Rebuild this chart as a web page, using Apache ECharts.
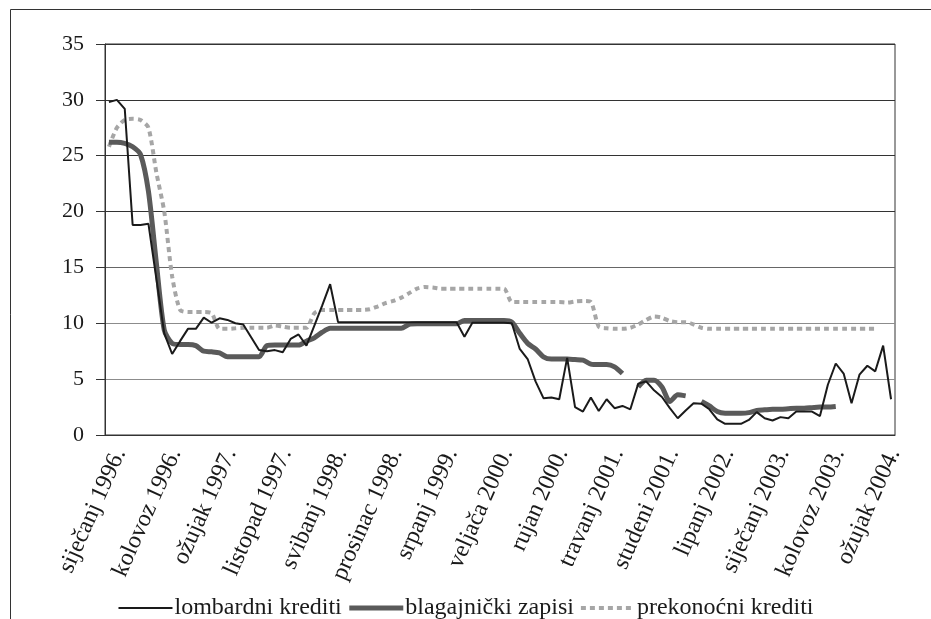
<!DOCTYPE html>
<html>
<head>
<meta charset="utf-8">
<script src="https://cdn.jsdelivr.net/npm/echarts@6/dist/echarts.min.js"></script>
<style>html,body{margin:0;padding:0;background:#fff;}#c{width:931px;height:619px;}</style>
</head>
<body>
<div id="c"></div>
<script>
const monthNames = ['siječanj','veljača','ožujak','travanj','svibanj','lipanj','srpanj','kolovoz','rujan','listopad','studeni','prosinac'];
const startYear = 1996;
const monthCount = 100;
const categories = [];
for (let i = 0; i < monthCount; i++) {
  categories.push(monthNames[i % 12] + ' ' + (startYear + Math.floor(i / 12)) + '.');
}
const yTicks = [0, 5, 10, 15, 20, 25, 30, 35];

const lombardni = [
  29.8, 30.0, 29.2, 18.8, 18.8, 18.9, 14.0, 9.1, 7.25, 8.4,
  9.5, 9.5, 10.5, 10.05, 10.45, 10.3, 10.0, 9.9, 8.75, 7.6,
  7.5, 7.6, 7.4, 8.6, 9.0, 8.0, 9.8, 11.6, 13.5, 10.1,
  10.1, 10.1, 10.1, 10.1, 10.1, 10.1, 10.1, 10.1, 10.1, 10.1,
  10.1, 10.1, 10.1, 10.1, 10.1, 8.8, 10.05, 10.05, 10.05, 10.05,
  10.05, 10.0, 7.7, 6.8, 4.8, 3.3, 3.35, 3.2, 6.9, 2.5,
  2.1, 3.35, 2.15, 3.2, 2.4, 2.6, 2.3, 4.6, 4.8, 4.0,
  3.4, 2.4, 1.5, 2.2, 2.85, 2.8, 2.3, 1.4, 1.0, 1.0,
  1.0, 1.35, 2.05, 1.5, 1.3, 1.6, 1.5, 2.1, 2.1, 2.1,
  1.7, 4.5, 6.4, 5.5, 2.85, 5.4, 6.2, 5.7, 8.0, 3.2
];
const blagajnicki = [
  26.2, 26.2, 26.1, 25.8, 25.1, 21.8, 15.4, 9.4, 8.2, 8.1,
  8.1, 8.0, 7.5, 7.45, 7.35, 7.0, 7.0, 7.0, 7.0, 7.0,
  8.0, 8.05, 8.05, 8.05, 8.05, 8.4, 8.7, 9.2, 9.55, 9.55,
  9.55, 9.55, 9.55, 9.55, 9.55, 9.55, 9.55, 9.55, 9.9, 9.95,
  9.95, 9.95, 9.95, 9.95, 9.95, 10.25, 10.25, 10.25, 10.25, 10.25,
  10.25, 10.1, 9.1, 8.2, 7.7, 7.0, 6.8, 6.8, 6.8, 6.75,
  6.7, 6.35, 6.3, 6.3, 6.1, 5.5, null, 4.3, 4.9, 4.9,
  4.3, 3.0, 3.6, 3.5, null, 3.0, 2.6, 2.1, 1.95, 1.95,
  1.95, 2.0, 2.2, 2.25, 2.3, 2.3, 2.35, 2.4, 2.4, 2.45,
  2.5, 2.5, 2.55, null, null, null, null, null, null, null
];
const prekonocni = [
  25.8, 27.5, 28.2, 28.3, 28.2, 27.5, 23.5, 20.0, 14.2, 11.2,
  11.0, 11.0, 11.0, 10.9, 9.5, 9.5, 9.55, 9.6, 9.6, 9.6,
  9.6, 9.8, 9.7, 9.6, 9.6, 9.6, 10.9, 11.2, 11.2, 11.2,
  11.2, 11.2, 11.2, 11.25, 11.5, 11.8, 12.0, 12.3, 12.7, 13.1,
  13.25, 13.2, 13.1, 13.1, 13.1, 13.1, 13.1, 13.1, 13.1, 13.1,
  13.1, 11.9, 11.9, 11.9, 11.9, 11.9, 11.9, 11.9, 11.85, 11.95,
  12.0, 11.9, 9.7, 9.55, 9.5, 9.5, 9.6, 9.9, 10.3, 10.6,
  10.5, 10.2, 10.1, 10.1, 9.9, 9.6, 9.5, 9.5, 9.5, 9.5,
  9.5, 9.5, 9.5, 9.5, 9.5, 9.5, 9.5, 9.5, 9.5, 9.5,
  9.5, 9.5, 9.5, 9.5, 9.5, 9.5, 9.5, 9.5, null, null
];

const FONT = '"Liberation Serif", "Times New Roman", serif';
const chart = echarts.init(document.getElementById('c'), null, {renderer: 'canvas'});
chart.setOption({
  animation: false,
  backgroundColor: '#ffffff',
  textStyle: {fontFamily: FONT},
  graphic: [{
    type: 'polyline',
    shape: {points: [[10.5, 619], [10.5, 9.5], [931, 9.5]]},
    style: {stroke: '#333', lineWidth: 1, fill: null},
    silent: true
  }],
  grid: {left: 105, right: 36, top: 44, bottom: 184, show: true, borderColor: '#333', borderWidth: 1},
  legend: {
    top: 591,
    left: 'center',
    itemWidth: 54,
    itemHeight: 14,
    itemGap: 5,
    itemStyle: {opacity: 0},
    textStyle: {fontFamily: FONT, fontSize: 24, color: '#1a1a1a', padding: [0, 0, 0, -3]},
    data: [
      {name: 'lombardni krediti', lineStyle: {width: 2, color: '#1a1a1a'}},
      {name: 'blagajnički zapisi', lineStyle: {width: 5, color: '#5a5a5a'}},
      {name: 'prekonoćni krediti', lineStyle: {width: 4, color: '#a6a6a6', type: [5, 4]}}
    ]
  },
  xAxis: {
    type: 'category',
    data: categories,
    boundaryGap: true,
    axisLine: {show: true, lineStyle: {color: '#333', width: 1}},
    axisTick: {show: false},
    axisLabel: {
      interval: 6,
      rotate: 66,
      margin: 10,
      align: 'right',
      verticalAlign: 'top',
      fontFamily: FONT,
      fontSize: 24,
      color: '#1a1a1a'
    },
    splitLine: {show: false}
  },
  yAxis: {
    type: 'value',
    min: yTicks[0],
    max: yTicks[yTicks.length - 1],
    interval: 5,
    axisLine: {show: true, lineStyle: {color: '#333', width: 1}},
    axisTick: {show: true, length: 9, lineStyle: {color: '#333'}},
    axisLabel: {margin: 21, fontFamily: FONT, fontSize: 22, color: '#1a1a1a'},
    splitLine: {show: true, lineStyle: {color: ['#333', '#8c8c8c', '#8c8c8c', '#666', '#333', '#333', '#333', '#333'], width: 1}}
  },
  series: [
    {
      name: 'lombardni krediti', type: 'line', data: lombardni,
      showSymbol: false, symbol: 'none',
      lineStyle: {color: '#1a1a1a', width: 2},
      itemStyle: {color: '#1a1a1a'},
      z: 4
    },
    {
      name: 'blagajnički zapisi', type: 'line', data: blagajnicki,
      showSymbol: false, symbol: 'none', connectNulls: false, smooth: 0.25,
      lineStyle: {color: '#5a5a5a', width: 5},
      itemStyle: {color: '#5a5a5a'},
      z: 3
    },
    {
      name: 'prekonoćni krediti', type: 'line', data: prekonocni,
      showSymbol: false, symbol: 'none', smooth: 0.25,
      lineStyle: {color: '#a6a6a6', width: 4, type: [5, 4]},
      itemStyle: {color: '#a6a6a6'},
      z: 2
    }
  ]
});
</script>
</body>
</html>
